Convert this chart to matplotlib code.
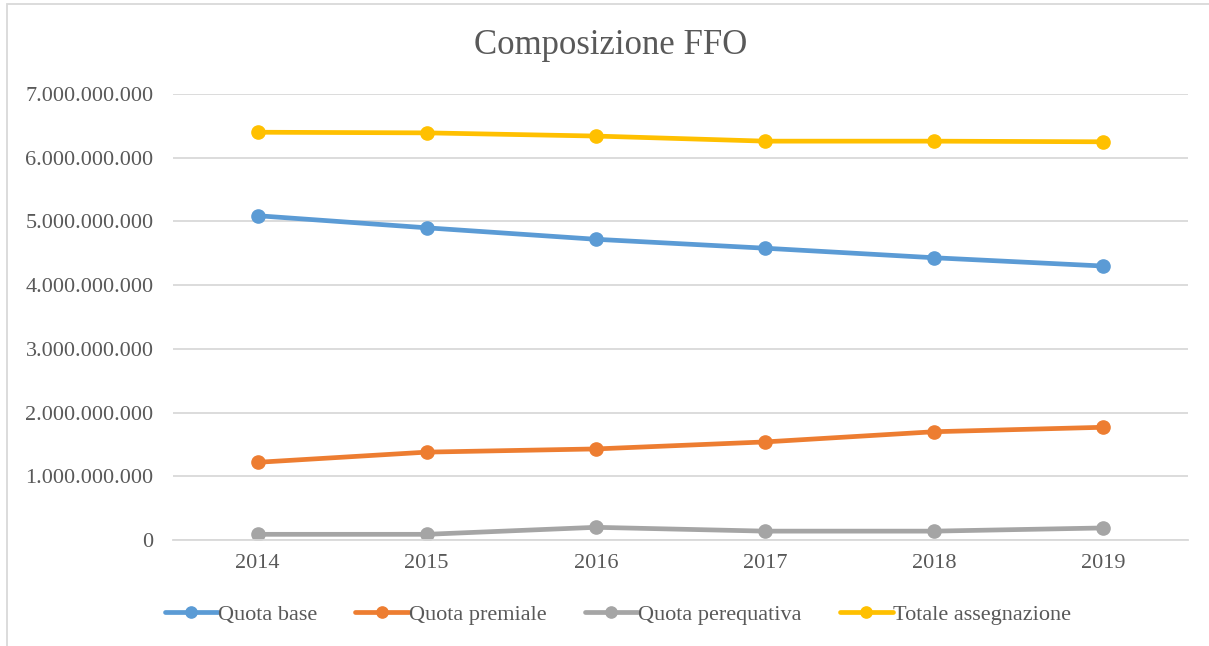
import matplotlib
matplotlib.use('Agg')
import matplotlib.pyplot as plt
from matplotlib.patches import Rectangle
from matplotlib.ticker import FuncFormatter

# data
years = ['2014', '2015', '2016', '2017', '2018', '2019']
quota_base = [5.09e9, 4.90e9, 4.72e9, 4.58e9, 4.43e9, 4.30e9]
quota_premiale = [1.22e9, 1.38e9, 1.43e9, 1.54e9, 1.70e9, 1.77e9]
quota_perequativa = [0.09e9, 0.09e9, 0.20e9, 0.14e9, 0.14e9, 0.19e9]
totale = [6.40e9, 6.39e9, 6.34e9, 6.26e9, 6.26e9, 6.25e9]

series = [
    ('Quota base', quota_base, '#5b9bd5'),
    ('Quota premiale', quota_premiale, '#ed7d31'),
    ('Quota perequativa', quota_perequativa, '#a5a5a5'),
    ('Totale assegnazione', totale, '#ffc000'),
]

plt.rcParams['font.family'] = ['Liberation Serif', 'DejaVu Serif']
text_color = '#595959'
grid_color = '#d9d9d9'

fig = plt.figure(figsize=(12.09, 6.46), dpi=100)
ax = fig.add_axes([0.1431, 0.164, 0.8395, 0.6905])

x = list(range(len(years)))
for name, vals, col in series:
    ax.plot(x, vals, color=col, lw=3.4, marker='o', markersize=9.5,
            label=name, solid_capstyle='round')

ax.set_xlim(-0.5, len(years) - 0.5)
ax.set_ylim(0, 7e9)
ax.set_yticks([i * 1e9 for i in range(8)])
ax.yaxis.set_major_formatter(FuncFormatter(lambda v, p: f'{int(v):,}'.replace(',', '.')))
ax.set_xticks(x)
ax.set_xticklabels(years)

ax.grid(axis='y', color=grid_color, lw=1.3)
ax.set_axisbelow(True)
for s in ['top', 'right', 'left']:
    ax.spines[s].set_visible(False)
ax.spines['bottom'].set_color(grid_color)
ax.spines['bottom'].set_linewidth(1.3)
ax.tick_params(length=0, labelsize=16, labelcolor=text_color)
ax.tick_params(axis='y', pad=14)
ax.tick_params(axis='x', pad=10)

fig.text(0.505, 0.93, 'Composizione FFO', ha='center', va='center',
         fontsize=25, color=text_color)

fig.legend(loc='center', bbox_to_anchor=(0.511, 0.049), ncol=4, frameon=False,
           fontsize=16, handlelength=2.4, handletextpad=0.0, columnspacing=1.72,
           labelcolor=text_color, markerscale=0.85)

# outer chart border
fig.patches.append(Rectangle((7 / 1209, -0.5), 2, 1.5 - 4 / 646,
                             transform=fig.transFigure, fill=False,
                             edgecolor=grid_color, lw=1.3))

fig.savefig('out.png', dpi=100)
